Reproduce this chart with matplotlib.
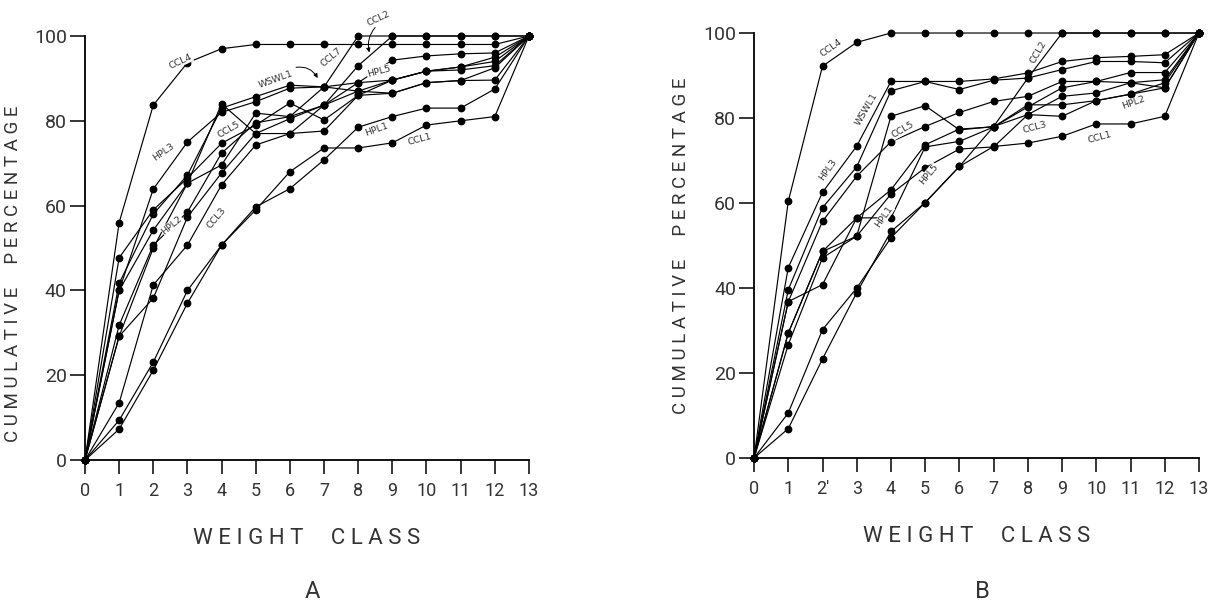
import matplotlib.pyplot as plt

plt.rcParams['font.family'] = ['Roboto', 'DejaVu Sans']

weight_class = list(range(14))
x_tick_labels_a = [str(i) for i in weight_class]
x_tick_labels_b = ['0', '1', "2'"] + [str(i) for i in weight_class[3:]]
y_ticks = [0, 20, 40, 60, 80, 100]

# panel A, cumulative percentage per weight class
a_ccl4 = [0, 56, 83.7, 93.7, 97, 98, 98, 98, 98, 98, 98, 98, 98, 100]
a_ccl1 = [0, 7.3, 21.2, 37, 50.7, 59, 68, 73.6, 73.6, 74.8, 79, 80, 81, 100]
a_hpl1 = [0, 9.4, 23.1, 40, 50.7, 59.7, 64, 70.8, 78.5, 81, 83, 83, 87.5, 100]
a_ccl3 = [0, 13.5, 41.3, 50.7, 64.9, 74.3, 77, 77.6, 86, 86.5, 89, 89.5, 92.5, 100]
a_hpl2 = [0, 29.2, 38.2, 57.3, 67.7, 77, 80.5, 83.7, 87, 89.6, 91.7, 92.7, 94, 100]
a_ccl5 = [0, 31.8, 50.7, 58.5, 72.4, 79.5, 81, 83.7, 89, 89.6, 91.7, 92.7, 95, 100]
a_hpl3 = [0, 40, 63.9, 75, 82, 84.5, 87.7, 88, 89, 94.3, 95.3, 95.8, 96, 100]
a_wswl1 = [0, 41.7, 58, 67.2, 83, 85.7, 88.4, 88, 87, 86.5, 89, 89.5, 89.6, 100]
a_hpl5 = [0, 47.7, 59, 66.5, 74.7, 79, 84.2, 80.2, 86, 89.6, 91.7, 92, 93, 100]
a_ccl7 = [0, 40, 54.2, 65.3, 69.6, 81.8, 81, 88, 100, 100, 100, 100, 100, 100]
a_ccl2 = [0, 29.2, 50, 65.3, 84, 77, 77, 83.7, 93, 100, 100, 100, 100, 100]

# panel B
b_ccl4 = [0, 60.4, 92.2, 97.8, 100, 100, 100, 100, 100, 100, 100, 100, 100, 100]
b_ccl2 = [0, 10.6, 30.2, 40, 51.8, 60.1, 68.6, 78, 89.4, 100, 100, 100, 100, 100]
b_wswl1 = [0, 44.8, 62.5, 73.4, 88.6, 88.6, 88.6, 89.2, 90.6, 93.3, 94.2, 94.5, 94.9, 100]
b_hpl3 = [0, 39.6, 58.9, 68.5, 86.4, 88.6, 86.7, 88.9, 89.4, 91.4, 93.3, 93.3, 93, 100]
b_ccl5 = [0, 36.8, 55.7, 66.3, 74.4, 78, 81.3, 83.9, 85.1, 88.6, 88.6, 90.7, 90.7, 100]
b_hpl1 = [0, 29.4, 48.6, 56.5, 63.1, 73.7, 77.4, 77.9, 82.6, 87.1, 88.6, 88.3, 89, 100]
b_hpl5 = [0, 26.7, 47.1, 52.2, 62.1, 68.3, 72.7, 73.2, 80.8, 85.1, 85.9, 88.3, 87.1, 100]
b_hpl2 = [0, 36.8, 40.8, 56.5, 56.5, 73.2, 74.5, 77.9, 83.1, 83.1, 84.1, 85.6, 87.1, 100]
b_ccl3 = [0, 29.4, 48.6, 52.2, 80.4, 82.9, 77.2, 78, 80.8, 80.4, 84.1, 85.6, 88.3, 100]
b_ccl1 = [0, 6.9, 23.3, 38.9, 53.3, 60.1, 68.6, 73.3, 74.1, 75.7, 78.6, 78.6, 80.4, 100]

series_a = [a_ccl4, a_ccl1, a_hpl1, a_ccl3, a_hpl2, a_ccl5, a_hpl3, a_wswl1, a_hpl5, a_ccl7, a_ccl2]
series_b = [b_ccl4, b_ccl2, b_wswl1, b_hpl3, b_ccl5, b_hpl1, b_hpl5, b_hpl2, b_ccl3, b_ccl1]

# curve tags: text, x, y, rotation
tags_a = [('CCL4', 2.8, 94, 25), ('HPL3', 2.3, 72.6, 35), ('CCL5', 4.2, 78, 30),
          ('WSWL1', 5.6, 89.8, 20), ('CCL7', 7.2, 95, 40), ('CCL2', 8.6, 104, 25),
          ('HPL5', 8.6, 91.7, 15), ('HPL1', 8.55, 78, 20), ('CCL1', 9.8, 75.5, 15),
          ('HPL2', 2.55, 55.4, 40), ('CCL3', 3.85, 57, 50)]
tags_b = [('CCL4', 2.25, 96.5, 35), ('WSWL1', 3.3, 82, 60), ('HPL3', 2.15, 67.8, 55),
          ('CCL5', 4.35, 77.2, 30), ('HPL1', 3.8, 56.8, 55), ('HPL5', 5.1, 66.7, 50),
          ('CCL2', 8.3, 95.4, 60), ('CCL3', 8.2, 77.7, 15), ('CCL1', 10.1, 75.4, 15),
          ('HPL2', 11.1, 83.6, 20)]

TXT = '#333333'


def spaced(s):
    # letter-spaced caps, like the original lettering
    return ' '.join(s)


def draw_panel(ax, series, tags, xlabels, ylabel_y):
    for vals in series:
        ax.plot(weight_class, vals, color='black', lw=0.85, marker='o', ms=4.6,
                clip_on=False, zorder=3)
    for txt, x, y, rot in tags:
        ax.text(x, y, txt, fontsize=6.8, rotation=rot, ha='center', va='center',
                family='DejaVu Sans', color=TXT, zorder=4,
                bbox=dict(facecolor='white', edgecolor='none', pad=0.3))
    ax.set_xlim(0, 13)
    ax.set_ylim(0, 100)
    ax.set_xticks(weight_class)
    ax.set_xticklabels(xlabels, fontsize=13, color=TXT)
    ax.set_yticks(y_ticks)
    ax.set_yticklabels([str(v) for v in y_ticks], fontsize=14, color=TXT)
    ax.tick_params(axis='x', length=10, width=1.1, pad=6)
    ax.tick_params(axis='y', length=11, width=1.1, pad=2)
    ax.spines['top'].set_visible(False)
    ax.spines['right'].set_visible(False)
    ax.spines['left'].set_linewidth(1.3)
    ax.spines['bottom'].set_linewidth(1.3)
    ax.set_xlabel(spaced('WEIGHT') + '     ' + spaced('CLASS'), fontsize=16,
                  color=TXT, labelpad=20)
    ax.set_ylabel(spaced('CUMULATIVE') + '     ' + spaced('PERCENTAGE'), fontsize=13.5,
                  color=TXT)
    ax.yaxis.set_label_coords(-0.143, ylabel_y)


fig = plt.figure(figsize=(12.09, 6.07), dpi=100)
ax_a = fig.add_axes([0.0703, 0.242, 0.3672, 0.6987])
ax_b = fig.add_axes([0.6237, 0.2455, 0.368, 0.7001])

draw_panel(ax_a, series_a, tags_a, x_tick_labels_a, 0.44)
draw_panel(ax_b, series_b, tags_b, x_tick_labels_b, 0.5)

# arrows next to some tags
ax_a.annotate('', xy=(6.85, 89.5), xytext=(6.1, 92.5),
              arrowprops=dict(arrowstyle='-|>', color='black', lw=0.7,
                              connectionstyle='arc3,rad=-0.4', mutation_scale=6))
ax_a.annotate('', xy=(8.35, 95.5), xytext=(8.55, 102.5),
              arrowprops=dict(arrowstyle='-|>', color='black', lw=0.7,
                              connectionstyle='arc3,rad=0.3', mutation_scale=6),
              annotation_clip=False)

fig.text(0.258, 0.015, 'A', fontsize=17, color=TXT, ha='center')
fig.text(0.813, 0.015, 'B', fontsize=17, color=TXT, ha='center')

fig.savefig('out.png', dpi=100)
